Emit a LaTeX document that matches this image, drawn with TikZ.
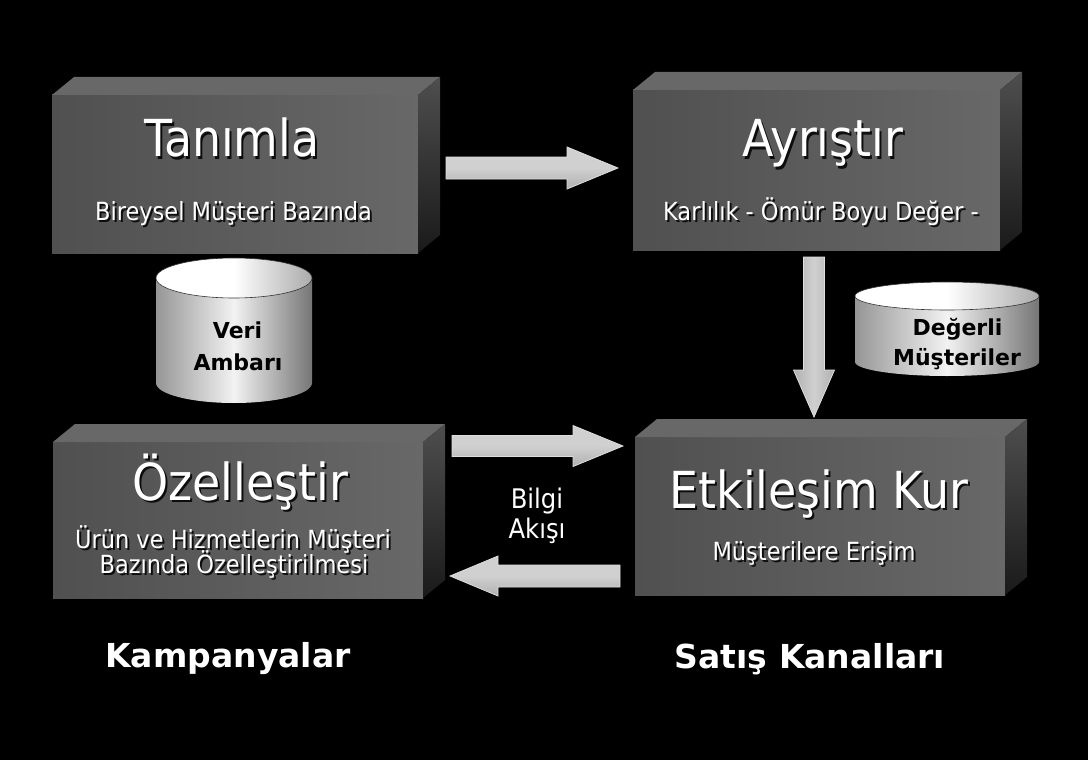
\documentclass[tikz,border=0pt]{standalone}
\usepackage{fontspec}
\setmainfont{DejaVu Sans Condensed}
\newfontfamily\widesans{DejaVu Sans}
\usetikzlibrary{calc}
\definecolor{frontL}{RGB}{80,80,80}
\definecolor{frontR}{RGB}{104,104,104}
\definecolor{topF}{RGB}{104,104,104}
\definecolor{sideT}{RGB}{78,78,78}
\definecolor{sideB}{RGB}{26,26,26}
\definecolor{arrHi}{RGB}{208,208,208}
\definecolor{arrLo}{RGB}{176,176,176}
\definecolor{arrEdge}{RGB}{222,222,222}
\definecolor{cylL}{RGB}{150,150,150}
\definecolor{cylM}{RGB}{242,242,242}
\definecolor{cylR}{RGB}{118,118,118}
\tikzset{
  frontface/.style={rectangle, inner sep=0pt, outer sep=0pt, draw=none, left color=frontL, right color=frontR},
  topface/.style={fill=topF},
  sideface/.style={top color=sideT, bottom color=sideB},
  whitetxt/.style={text=white, inner sep=0pt, anchor=base},
  shadowtxt/.style={text=black, inner sep=0pt, anchor=base, opacity=0.85},
  cyltxt/.style={text=black, inner sep=0pt, anchor=base, font=\widesans\bfseries\fontsize{22}{26}\selectfont},
  labeltxt/.style={text=white, inner sep=0pt, anchor=base, font=\widesans\bfseries\fontsize{33}{38}\selectfont},
  harrowshade/.style={top color=arrHi, bottom color=arrLo, middle color=arrHi, draw=arrEdge, line width=0.8pt, line join=miter},
  varrowshade/.style={left color=arrLo, right color=arrLo, middle color=arrHi, draw=arrEdge, line width=0.8pt, line join=miter},
  cylbody/.style={left color=cylL, right color=cylR, middle color=cylM},
  cyltop/.style={left color=white, right color=cylL!80!white, middle color=white, draw=black!80, line width=0.6pt},
}
% shadowed text: name, position, font, text
\newcommand\stxt[4]{%
  \node[shadowtxt,font=#3] at ([shift={(2,2)}]#2) {#4};
  \node[whitetxt,font=#3] (#1) at (#2) {#4};}
% 3D faces of a box node
\newcommand\boxsides[1]{%
  \fill[topface] (#1.north west) -- ++(22,-18) -- ([shift={(22,-18)}]#1.north east) -- (#1.north east) -- cycle;
  \shade[sideface] (#1.north east) -- ++(22,-18) -- ([shift={(22,-18)}]#1.south east) -- (#1.south east) -- cycle;}
% horizontal block arrow: start, tip, shaft half, head half, head length (signed, canvas pt)
\newcommand\harrow[5]{%
  \shade[harrowshade] let \p1=(#1), \p2=(#2) in
   (\x1,\y1+#3) -- (\x2-#5,\y1+#3) -- (\x2-#5,\y1+#4) -- (\x2,\y1) --
   (\x2-#5,\y1-#4) -- (\x2-#5,\y1-#3) -- (\x1,\y1-#3) -- cycle;}
% vertical block arrow (downward): start, tip, shaft half, head half, head length
\newcommand\varrow[5]{%
  \shade[varrowshade] let \p1=(#1), \p2=(#2) in
   (\x1-#3,\y1) -- (\x1-#3,\y2+#5) -- (\x1-#4,\y2+#5) -- (\x1,\y2) --
   (\x1+#4,\y2+#5) -- (\x1+#3,\y2+#5) -- (\x1+#3,\y1) -- cycle;}
% cylinder: center x, top center y, bottom center y, rx, ry
\newcommand\cyl[5]{%
  \shade[cylbody] (#1-#4,#2) -- (#1-#4,#3) arc[start angle=180, end angle=360, x radius=#4pt, y radius=#5pt] -- (#1+#4,#2) -- cycle;
  \shade[cyltop] (#1,#2) ellipse[x radius=#4pt, y radius=#5pt];}
\begin{document}
\begin{tikzpicture}[x=1pt,y=-1pt]
\fill[black] (0,0) rectangle (1088,760);
\useasboundingbox (0,0) rectangle (1088,760);

% boxes
\node[frontface, minimum width=366pt, minimum height=158pt] (T) at (235,174) {};
\node[frontface, minimum width=367pt, minimum height=160pt] (A) at (816.5,170) {};
\node[frontface, minimum width=370pt, minimum height=156pt] (O) at (238,520) {};
\node[frontface, minimum width=370pt, minimum height=158pt] (E) at (820,516) {};
\boxsides{T}
\boxsides{A}
\boxsides{O}
\boxsides{E}

% box texts
\stxt{t1}{232,157}{\fontsize{51}{60}\selectfont}{Tanımla}
\stxt{t2}{233.5,220}{\fontsize{25}{30}\selectfont}{Bireysel Müşteri Bazında}
\stxt{a1}{823,157}{\fontsize{51}{60}\selectfont}{Ayrıştır}
\stxt{a2}{821,220}{\fontsize{25}{30}\selectfont}{Karlılık - Ömür Boyu Değer -}
\stxt{o1}{240,500}{\fontsize{51}{60}\selectfont}{Özelleştir}
\stxt{o2}{233,548}{\fontsize{25}{30}\selectfont}{Ürün ve Hizmetlerin Müşteri}
\stxt{o3}{234,573}{\fontsize{25}{30}\selectfont}{Bazında Özelleştirilmesi}
\stxt{e1}{819,508}{\fontsize{51}{60}\selectfont}{Etkileşim Kur}
\stxt{e2}{814,560}{\fontsize{25}{30}\selectfont}{Müşterilere Erişim}

% connectors
\coordinate (ta0) at ([shift={(28,-6)}]T.east);
\coordinate (ta1) at ([shift={(-15,-2)}]A.west);
\harrow{ta0}{ta1}{11pt}{21pt}{51pt}
\coordinate (ae0) at ([shift={(-2.5,7)}]A.south);
\coordinate (ae1) at ([shift={(-6,-20)}]E.north);
\varrow{ae0}{ae1}{10.5pt}{20.5pt}{47pt}
\coordinate (oe0) at ([shift={(29,-74)}]O.east);
\coordinate (oe1) at ([shift={(-12,-70)}]E.west);
\harrow{oe0}{oe1}{10.5pt}{20.5pt}{50pt}
\coordinate (eo0) at ([shift={(-15,60)}]E.west);
\coordinate (eo1) at ([shift={(27,56)}]O.east);
\harrow{eo0}{eo1}{11pt}{20pt}{-48pt}

% Bilgi Akisi
\node[whitetxt, font=\fontsize{27}{32}\selectfont] (b1) at (537,508) {Bilgi};
\node[whitetxt, font=\fontsize{27}{32}\selectfont] (b2) at (537,538) {Akışı};

% cylinders
\cyl{234}{278}{383}{78}{20}
\node[cyltxt] (v1) at (237.5,338) {Veri};
\node[cyltxt] (v2) at (238,370) {Ambarı};
\cyl{947}{296}{362}{92}{14}
\node[cyltxt] (d1) at (957.5,335) {Değerli};
\node[cyltxt] (d2) at (957,365) {Müşteriler};

% bottom labels
\node[labeltxt] (k) at (228,667) {Kampanyalar};
\node[labeltxt] (s) at (810,668) {Satış Kanalları};
\end{tikzpicture}
\end{document}
